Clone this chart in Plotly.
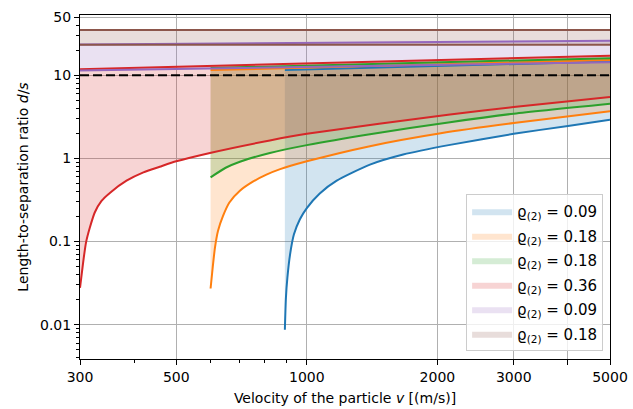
import plotly.graph_objects as go

# ---- data ----
v_blue_low = [890, 895, 902, 915, 934, 964, 1000, 1071, 1172, 1398, 1668, 2139, 3000, 4000, 5000]
d_blue_low = [0.0087, 0.021, 0.0366, 0.070, 0.122, 0.185, 0.252, 0.378, 0.538, 0.839, 1.11, 1.45, 1.97, 2.45, 2.91]
v_blue_up = [890, 5000]
d_blue_up = [11.5, 14.6]

v_orange_low = [600, 606.6, 614, 624, 641, 663, 701, 751, 807, 868, 1000, 1398, 2036, 3000, 5000]
d_orange_low = [0.0272, 0.048, 0.084, 0.134, 0.203, 0.294, 0.407, 0.523, 0.635, 0.74, 0.92, 1.40, 2.00, 2.65, 3.67]
v_orange_up = [600, 5000]
d_orange_up = [11.5, 15.2]

v_green_low = [600, 650, 701, 822, 1000, 1398, 2139, 3000, 5000]
d_green_low = [0.59, 0.77, 0.91, 1.16, 1.44, 1.95, 2.72, 3.44, 4.53]
v_green_up = [600, 5000]
d_green_up = [12.2, 16.0]

v_red_low = [300, 305.3, 309.7, 316.1, 324.4, 336.3, 352.6, 384, 420, 458, 500, 598, 822, 1000, 2139, 3000, 5000]
d_red_low = [0.0277, 0.058, 0.097, 0.147, 0.223, 0.308, 0.389, 0.538, 0.678, 0.79, 0.92, 1.16, 1.64, 1.97, 3.37, 4.13, 5.45]
v_red_up = [300, 1000, 5000]
d_red_up = [11.8, 13.8, 17.1]

v_purple_low = [300, 5000]
d_purple_low = [11.4, 14.3]
v_purple_up = [300, 1000, 5000]
d_purple_up = [23.3, 24.3, 25.9]

v_brown_low = [300, 5000]
d_brown_low = [23.2, 23.2]
v_brown_up = [300, 5000]
d_brown_up = [34.8, 34.8]

ref_v = [300, 5000]
ref_d = [10, 10]

labels = ["0.09", "0.18", "0.18", "0.36", "0.09", "0.18"]
colors = ["#1f77b4", "#ff7f0e", "#2ca02c", "#d62728", "#9467bd", "#8c564b"]

x_tickvals = [300, 500, 1000, 2000, 3000, 4000, 5000]
x_ticktext = ["300", "500", "1000", "2000", "3000", "", "5000"]
x_minor = [400, 600, 700, 800, 900]
y_tickvals = [0.01, 0.1, 1, 10, 50]
y_ticktext = ["0.01", "0.1", "1", "10", "50"]
y_minor = [m * 10 ** k for k in range(-3, 2) for m in range(2, 10)]

series = [
    (v_blue_low, d_blue_low, v_blue_up, d_blue_up),
    (v_orange_low, d_orange_low, v_orange_up, d_orange_up),
    (v_green_low, d_green_low, v_green_up, d_green_up),
    (v_red_low, d_red_low, v_red_up, d_red_up),
    (v_purple_low, d_purple_low, v_purple_up, d_purple_up),
    (v_brown_low, d_brown_low, v_brown_up, d_brown_up),
]


def rgba(h, a):
    h = h.lstrip("#")
    r, g, b = int(h[0:2], 16), int(h[2:4], 16), int(h[4:6], 16)
    return f"rgba({r},{g},{b},{a})"


fig = go.Figure()
FONT = "DejaVu Sans"
SM = 0.6

# fills (boundary trace + tonexty fill so that the curved edge is smoothed too)
for i, (vl, dl, vu, du) in enumerate(series):
    fig.add_trace(go.Scatter(
        x=vu, y=du, mode="lines", line=dict(width=0, shape="spline", smoothing=SM),
        showlegend=False, hoverinfo="skip", legendgroup=f"g{i}"))
    fig.add_trace(go.Scatter(
        x=vl, y=dl, fill="tonexty", fillcolor=rgba(colors[i], 0.2), mode="lines",
        line=dict(width=0, color=rgba(colors[i], 0.2), shape="spline", smoothing=SM),
        name=f"ϱ<sub>(2)</sub> = {labels[i]}", legendgroup=f"g{i}",
        showlegend=True, hoverinfo="skip"))

# lines
for i, (vl, dl, vu, du) in enumerate(series):
    fig.add_trace(go.Scatter(x=vl, y=dl, mode="lines",
                             line=dict(color=colors[i], width=2, shape="spline", smoothing=SM),
                             showlegend=False, hoverinfo="skip"))
    fig.add_trace(go.Scatter(x=vu, y=du, mode="lines", line=dict(color=colors[i], width=2),
                             showlegend=False, hoverinfo="skip"))

fig.add_trace(go.Scatter(x=ref_v, y=ref_d, mode="lines",
                         line=dict(color="black", width=2, dash="9px,4px"),
                         showlegend=False, hoverinfo="skip"))

axis_common = dict(
    type="log", showline=True, linecolor="black", linewidth=1, mirror=True,
    ticks="outside", ticklen=5, tickwidth=1, tickcolor="black",
    showgrid=True, gridcolor="#b0b0b0", gridwidth=1.2, zeroline=False,
    tickfont=dict(family=FONT, size=14, color="black"), automargin=False,
)

fig.update_xaxes(
    **axis_common, range=[2.4771, 3.69897], tickmode="array",
    tickvals=x_tickvals, ticktext=x_ticktext,
    minor=dict(tickmode="array", tickvals=x_minor, ticklen=3, tickwidth=1,
               tickcolor="black", ticks="outside", showgrid=False),
    title=dict(text="Velocity of the particle <i>v</i> [(m/s)]",
               font=dict(family=FONT, size=14, color="black"), standoff=9),
)
fig.update_yaxes(
    **axis_common, range=[-2.413, 1.723], tickmode="array",
    tickvals=y_tickvals, ticktext=y_ticktext,
    minor=dict(tickmode="array", tickvals=y_minor, ticklen=3, tickwidth=1,
               tickcolor="black", ticks="outside", showgrid=False),
    title=dict(text="Length-to-separation ratio <i>d</i>/<i>s</i>",
               font=dict(family=FONT, size=14, color="black"), standoff=8),
)

fig.update_layout(
    template="none", width=633, height=409,
    margin=dict(l=80, r=23, t=15, b=50),
    plot_bgcolor="white", paper_bgcolor="white",
    font=dict(family=FONT, size=14, color="black"),
    legend=dict(x=0.987, xanchor="right", y=0.023, yanchor="bottom",
                bgcolor="rgba(255,255,255,0.8)", bordercolor="#cccccc", borderwidth=1,
                font=dict(family=FONT, size=15, color="black"), tracegroupgap=2,
                itemwidth=40),
    showlegend=True,
)

fig.write_html("out.html")
